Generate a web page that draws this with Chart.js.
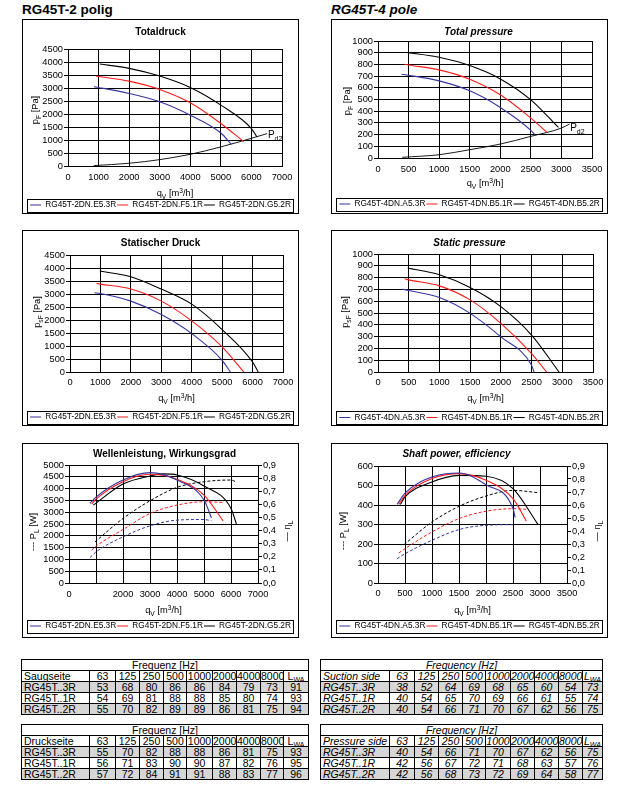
<!DOCTYPE html>
<html><head><meta charset="utf-8">
<script src="https://cdn.jsdelivr.net/npm/chart.js@4.4.1/dist/chart.umd.min.js"></script>
<style>
html,body{margin:0;padding:0;background:#fff;}
body{width:624px;height:785px;position:relative;overflow:hidden;font-family:'Liberation Sans',Arial,sans-serif;color:#000;}
.h{position:absolute;font-weight:bold;font-size:13.5px;line-height:14px;white-space:nowrap;}
canvas{position:absolute;display:block;}
table{position:absolute;border-collapse:collapse;table-layout:fixed;font-size:10.5px;line-height:10px;}
td{border:1px solid #000;padding:0;text-align:center;overflow:hidden;white-space:nowrap;height:10px;vertical-align:middle;}
td.n{text-align:left;padding-left:2px;}
tr.g td{background:#d6d6d6;}
table.it td{font-style:italic;}
sub{font-size:7px;vertical-align:-2px;line-height:0;}
</style></head><body>
<div class="h" style="left:22px;top:3px">RG45T-2 polig</div>
<div class="h" style="left:331px;top:3px;font-style:italic">RG45T-4 pole</div>
<canvas id="c1" width="277" height="195" style="left:22px;top:19px"></canvas>
<canvas id="c2" width="277" height="195" style="left:331px;top:19px"></canvas>
<canvas id="c3" width="277" height="196" style="left:22px;top:230px"></canvas>
<canvas id="c4" width="277" height="196" style="left:331px;top:230px"></canvas>
<canvas id="c5" width="277" height="195" style="left:22px;top:443px"></canvas>
<canvas id="c6" width="277" height="195" style="left:331px;top:443px"></canvas>
<script>
// ---------------- DATA ----------------
// Legend names
const names2 = ['RG45T-2DN.E5.3R', 'RG45T-2DN.F5.1R', 'RG45T-2DN.G5.2R'];
const names4 = ['RG45T-4DN.A5.3R', 'RG45T-4DN.B5.1R', 'RG45T-4DN.B5.2R'];

// Chart 1: Totaldruck (2-pole)  q [m3/h], p [Pa]
const tot2_qE = [850, 1000, 2000, 3000, 4000, 5000, 5340];
const tot2_pE = [3050, 3020, 2790, 2470, 1955, 1270, 835];
const tot2_qF = [910, 1000, 2000, 3000, 4000, 5000, 5745];
const tot2_pF = [3460, 3445, 3265, 2945, 2430, 1635, 940];
const tot2_qG = [1040, 2000, 3000, 4000, 5000, 6000, 6180];
const tot2_pG = [3920, 3755, 3460, 3020, 2340, 1440, 1120];
const tot2_qPd = [840, 2000, 3000, 4000, 5000, 6000, 6510];
const tot2_pPd = [15, 105, 245, 450, 735, 1065, 1245];

// Chart 2: Total pressure (4-pole)
const tot4_qA = [385, 500, 1000, 1500, 2000, 2500, 2565];
const tot4_pA = [716, 707, 659, 574, 432, 236, 199];
const tot4_qB1 = [434, 500, 1000, 1500, 2000, 2500, 2758];
const tot4_pB1 = [801, 795, 753, 673, 540, 341, 222];
const tot4_qB2 = [484, 1000, 1500, 2000, 2500, 2951];
const tot4_pB2 = [901, 861, 790, 676, 497, 261];
const tot4_qPd = [396, 1000, 1500, 2000, 2500, 3000, 3132];
const tot4_pPd = [6, 28, 71, 119, 185, 256, 290];

// Chart 3: Statischer Druck (2-pole)
const st2_qE = [805, 1000, 2000, 3000, 4000, 5000, 5270];
const st2_pE = [3047, 3021, 2726, 2211, 1478, 450, 0];
const st2_qF = [871, 1000, 2000, 3000, 4000, 5000, 5711];
const st2_pF = [3407, 3381, 3189, 2726, 1967, 964, 0];
const st2_qG = [981, 2000, 3000, 4000, 5000, 6000, 6185];
const st2_pG = [3883, 3664, 3188, 2610, 1633, 386, 0];

// Chart 4: Static pressure (4-pole)
const st4_qA = [395, 500, 1000, 1500, 2000, 2500, 2541];
const st4_pA = [702, 690, 631, 497, 298, 57, 0];
const st4_qB1 = [434, 500, 1000, 1500, 2000, 2500, 2744];
const st4_pB1 = [790, 781, 730, 611, 412, 156, 0];
const st4_qB2 = [483, 1000, 1500, 2000, 2500, 2947];
const st4_pB2 = [881, 824, 716, 554, 313, 0];

// Chart 5: Wellenleistung, Wirkungsgrad (2-pole)
const sh2_qE = [777, 1000, 2000, 3000, 4000, 5000, 5277];
const sh2_etaE = [0.607, 0.655, 0.786, 0.842, 0.786, 0.633, 0.497];
const sh2_powE = [1076, 1317, 1955, 2422, 2663, 2691, 2635];
const sh2_qF = [838, 1000, 2000, 3000, 4000, 5000, 5709];
const sh2_etaF = [0.602, 0.640, 0.773, 0.829, 0.791, 0.671, 0.474];
const sh2_powF = [1388, 1558, 2266, 2946, 3300, 3442, 3414];
const sh2_qG = [900, 2000, 3000, 3500, 4000, 5000, 6000, 6202];
const sh2_etaG = [0.594, 0.755, 0.816, 0.832, 0.824, 0.740, 0.569, 0.449];
const sh2_qGp = [962, 2000, 3000, 4000, 5000, 6000, 6202];
const sh2_powG = [1742, 2734, 3484, 4051, 4292, 4363, 4278];

// Chart 6: Shaft power, efficiency (4-pole)
const sh4_qA = [353, 500, 1000, 1500, 2000, 2500, 2540];
const sh4_etaA = [0.605, 0.692, 0.815, 0.846, 0.756, 0.572, 0.503];
const sh4_powA = [125, 150, 219, 274, 296, 299, 299];
const sh4_qB1 = [384, 500, 1000, 1500, 2000, 2500, 2745];
const sh4_etaB1 = [0.605, 0.674, 0.803, 0.841, 0.790, 0.649, 0.477];
const sh4_powB1 = [154, 176, 262, 330, 368, 381, 378];
const sh4_qB2 = [415, 500, 1000, 1500, 2000, 2500, 2961];
const sh4_etaB2 = [0.605, 0.662, 0.777, 0.828, 0.821, 0.726, 0.451];
const sh4_qB2p = [483, 1000, 1500, 2000, 2500, 2975];
const sh4_powB2 = [197, 313, 393, 446, 475, 463];

// Sound tables
const freqBands = ['63', '125', '250', '500', '1000', '2000', '4000', '8000'];
const soundModels = ['RG45T..3R', 'RG45T..1R', 'RG45T..2R'];
const suction2 = [[53, 68, 80, 86, 86, 84, 79, 73, 91], [54, 69, 81, 88, 88, 85, 80, 74, 93], [55, 70, 82, 89, 89, 86, 81, 75, 94]];
const pressure2 = [[55, 70, 82, 88, 88, 86, 81, 75, 93], [56, 71, 83, 90, 90, 87, 82, 76, 95], [57, 72, 84, 91, 91, 88, 83, 77, 96]];
const suction4 = [[38, 52, 64, 69, 68, 65, 60, 54, 73], [40, 54, 65, 70, 69, 66, 61, 55, 74], [40, 54, 66, 71, 70, 67, 62, 56, 75]];
const pressure4 = [[40, 54, 66, 71, 70, 67, 62, 56, 75], [42, 56, 67, 72, 71, 68, 63, 57, 76], [42, 56, 68, 73, 72, 69, 64, 58, 77]];

// ---------------- STYLE ----------------
const FONT = "'Liberation Sans', Arial, Helvetica, sans-serif";
const BLUE = '#3535a0', RED = '#ff1a1a', BLACK = '#000000';
const TICK_FS = 9.3, AX_FS = 9.3, TITLE_FS = 10, LEG_FS = 8.3, LEG_PAD = 1;
const LW = 1.1;
Chart.defaults.font.family = FONT;
Chart.defaults.color = '#000';

function drawRich(ctx, segs, x, y, size, rot) {
  const small = size * 0.72;
  const f = s => (s.sub || s.sup ? small : size) + 'px ' + FONT;
  let total = 0;
  const ws = segs.map(s => { ctx.font = f(s); const w = ctx.measureText(s.t).width; total += w; return w; });
  ctx.save();
  ctx.translate(x, y);
  if (rot) ctx.rotate(rot);
  ctx.textAlign = 'left'; ctx.textBaseline = 'alphabetic'; ctx.fillStyle = '#000';
  let cx = -total / 2;
  const base = size * 0.36;
  segs.forEach((s, i) => {
    ctx.font = f(s);
    const dy = s.sub ? size * 0.3 : s.sup ? -size * 0.4 : 0;
    ctx.fillText(s.t, cx, base + dy);
    cx += ws[i];
  });
  ctx.restore();
}

const deco = {
  id: 'deco',
  beforeLayout(chart, args, o) {
    const lg = chart.legend;
    if (lg && !lg._fixedH) {
      const orig = lg.fit;
      lg.fit = function () { orig.call(this); this.height = o.legendH; };
      lg._fixedH = true;
    }
  },
  afterDraw(chart, args, o) {
    const ctx = chart.ctx, W = chart.width, H = chart.height;
    ctx.save();
    ctx.strokeStyle = '#000'; ctx.lineWidth = 1;
    ctx.strokeRect(0.5, 0.5, W - 1, H - 1);
    const hb = chart.legend && chart.legend.legendHitBoxes;
    if (hb && hb.length) {
      const l = Math.min(...hb.map(b => b.left)), r = Math.max(...hb.map(b => b.left + b.width));
      const cy = hb[0].top + hb[0].height / 2;
      const x0 = Math.round(l - 3) + 0.5, x1 = Math.round(r + 2) + 0.5;
      const y0 = Math.round(cy - 6.5) + 0.5, y1 = Math.round(cy + 6.5) + 0.5;
      ctx.strokeRect(x0, y0, x1 - x0, y1 - y0);
    }
    ctx.fillStyle = '#000';
    ctx.font = (o.italic ? 'italic ' : '') + 'bold ' + TITLE_FS + 'px ' + FONT;
    ctx.textAlign = 'center'; ctx.textBaseline = 'middle';
    ctx.fillText(o.title, W / 2 + (o.titleDx || 0), o.titleY);
    const ca = chart.chartArea;
    drawRich(ctx, o.xTitle, ca.left + ca.width / 2, o.xTitleY, AX_FS, 0);
    drawRich(ctx, o.yTitle, o.yTitleX, o.yTitleY, AX_FS, -Math.PI / 2);
    if (o.y2Title) drawRich(ctx, o.y2Title, o.y2TitleX, o.y2TitleY, AX_FS, -Math.PI / 2);
    if (o.pd) {
      const px = chart.scales.x.getPixelForValue(o.pd.x), py = chart.scales.y.getPixelForValue(o.pd.y);
      ctx.textAlign = 'left'; ctx.textBaseline = 'alphabetic';
      ctx.font = '10px ' + FONT;
      ctx.fillText('P', px, py + 3.6);
      const w = ctx.measureText('P').width;
      ctx.font = '7px ' + FONT;
      ctx.fillText('d2', px + w, py + 6.5);
    }
    ctx.restore();
  }
};

function line(label, xs, ys, color, extra) {
  return Object.assign({
    label, data: xs.map((x, i) => ({ x, y: ys[i] })),
    borderColor: color, backgroundColor: color, borderWidth: LW,
    pointRadius: 0, pointHoverRadius: 0, fill: false, cubicInterpolationMode: 'monotone'
  }, extra || {});
}

const qTitle = [{ t: 'q' }, { t: 'V', sub: 1 }, { t: ' [m' }, { t: '3', sup: 1 }, { t: '/h]' }];

function makeChart(id, geo, datasets, xs, ys, y2, o) {
  const Lh = geo.H + LEG_PAD + LEG_FS / 2 - geo.legY;
  const xH = geo.H - Lh - geo.B;
  const scales = {
    x: {
      type: 'linear', position: 'bottom', min: 0, max: xs.max,
      ticks: { stepSize: xs.step, autoSkip: false, maxRotation: 0, minRotation: 0, padding: geo.xPad, color: '#000', font: { size: TICK_FS }, callback: xs.cb || (v => String(v)) },
      grid: { color: '#000', lineWidth: 1, drawTicks: false },
      border: { color: '#000', width: 1 },
      afterFit: s => { s.height = xH; }
    },
    y: {
      type: 'linear', position: 'left', min: 0, max: ys.max,
      ticks: { stepSize: ys.step, autoSkip: false, padding: 1, color: '#000', font: { size: TICK_FS }, callback: v => String(v) },
      grid: { color: '#000', lineWidth: 1, drawTicks: true, tickLength: 4, tickColor: '#000' },
      border: { color: '#000', width: 1 },
      afterFit: s => { s.width = geo.L; }
    }
  };
  if (y2) {
    scales.y2 = {
      type: 'linear', position: 'right', min: 0, max: 0.9,
      ticks: { stepSize: 0.1, autoSkip: false, padding: 1, color: '#000', font: { size: TICK_FS }, callback: v => v.toFixed(1).replace('.', ',') },
      grid: { drawOnChartArea: false, drawTicks: true, tickLength: 4, tickColor: '#000', color: '#000' },
      border: { color: '#000', width: 1 },
      afterFit: s => { s.width = geo.W - geo.R; }
    };
  } else {
    scales.yr = {
      type: 'linear', position: 'right', display: true,
      ticks: { display: false }, grid: { display: false }, border: { display: false },
      afterFit: s => { s.width = geo.W - geo.R; }
    };
  }
  o.legendH = Lh;
  return new Chart(document.getElementById(id), {
    type: 'line',
    data: { datasets },
    options: {
      responsive: false, animation: false, devicePixelRatio: 1, events: [],
      layout: { padding: { top: geo.T, left: 0, right: 0, bottom: 0 } },
      scales,
      plugins: {
        title: { display: false }, tooltip: { enabled: false },
        legend: {
          display: true, position: 'bottom',
          labels: {
            usePointStyle: true, pointStyle: 'line', pointStyleWidth: 11, padding: LEG_PAD,
            color: '#000', font: { size: LEG_FS }, filter: it => it.datasetIndex < 3
          }
        },
        deco: o
      }
    },
    plugins: [deco]
  });
}

// Chart 1
makeChart('c1', { W: 277, H: 195, L: 46, R: 260, T: 30, B: 147, xPad: 5.4, legY: 186 }, [
  line(names2[0], tot2_qE, tot2_pE, BLUE),
  line(names2[1], tot2_qF, tot2_pF, RED),
  line(names2[2], tot2_qG, tot2_pG, BLACK),
  line('Pd2', tot2_qPd, tot2_pPd, BLACK, { borderWidth: 0.9 })
], { max: 7000, step: 1000 }, { max: 4500, step: 500 }, false, {
  title: 'Totaldruck', titleY: 13, titleDx: 0,
  xTitle: qTitle, xTitleY: 174,
  yTitle: [{ t: 'p' }, { t: 'F', sub: 1 }, { t: ' [Pa]' }], yTitleX: 13, yTitleY: 91,
  pd: { x: 6540, y: 1221 }
});

// Chart 2
makeChart('c2', { W: 277, H: 195, L: 47, R: 261, T: 22, B: 139, xPad: 5.4, legY: 185 }, [
  line(names4[0], tot4_qA, tot4_pA, BLUE),
  line(names4[1], tot4_qB1, tot4_pB1, RED),
  line(names4[2], tot4_qB2, tot4_pB2, BLACK),
  line('Pd2', tot4_qPd, tot4_pPd, BLACK, { borderWidth: 0.9 })
], { max: 3500, step: 500 }, { max: 1000, step: 100 }, false, {
  title: 'Total pressure', italic: true, titleY: 13, titleDx: 9,
  xTitle: qTitle, xTitleY: 164,
  yTitle: [{ t: 'p' }, { t: 'F', sub: 1 }, { t: ' [Pa]' }], yTitleX: 16, yTitleY: 82,
  pd: { x: 3143, y: 259 }
});

// Chart 3
makeChart('c3', { W: 277, H: 196, L: 48, R: 261, T: 25, B: 142, xPad: 4.4, legY: 187 }, [
  line(names2[0], st2_qE, st2_pE, BLUE),
  line(names2[1], st2_qF, st2_pF, RED),
  line(names2[2], st2_qG, st2_pG, BLACK)
], { max: 7000, step: 1000 }, { max: 4500, step: 500 }, false, {
  title: 'Statischer Druck', titleY: 13,
  xTitle: qTitle, xTitleY: 168,
  yTitle: [{ t: 'p' }, { t: 'sF', sub: 1 }, { t: ' [Pa]' }], yTitleX: 15, yTitleY: 82
});

// Chart 4
makeChart('c4', { W: 277, H: 196, L: 47, R: 262, T: 24, B: 142, xPad: 4.4, legY: 187.5 }, [
  line(names4[0], st4_qA, st4_pA, BLUE),
  line(names4[1], st4_qB1, st4_pB1, RED),
  line(names4[2], st4_qB2, st4_pB2, BLACK)
], { max: 3500, step: 500 }, { max: 1000, step: 100 }, false, {
  title: 'Static pressure', italic: true, titleY: 13,
  xTitle: qTitle, xTitleY: 168,
  yTitle: [{ t: 'p' }, { t: 'sF', sub: 1 }, { t: ' [Pa]' }], yTitleX: 14, yTitleY: 82
});

const dash = { borderDash: [3, 2], borderWidth: 1 };
// Chart 5
makeChart('c5', { W: 277, H: 195, L: 47, R: 236, T: 22, B: 140, xPad: 5.4, legY: 183 }, [
  line(names2[0], sh2_qE, sh2_etaE, BLUE, { yAxisID: 'y2' }),
  line(names2[1], sh2_qF, sh2_etaF, RED, { yAxisID: 'y2' }),
  line(names2[2], sh2_qG, sh2_etaG, BLACK, { yAxisID: 'y2' }),
  line('P ' + names2[0], sh2_qE, sh2_powE, BLUE, Object.assign({ yAxisID: 'y' }, dash)),
  line('P ' + names2[1], sh2_qF, sh2_powF, RED, Object.assign({ yAxisID: 'y' }, dash)),
  line('P ' + names2[2], sh2_qGp, sh2_powG, BLACK, Object.assign({ yAxisID: 'y' }, dash))
], { max: 7000, step: 1000, cb: v => (v === 1000 ? '' : String(v)) }, { max: 5000, step: 500 }, true, {
  title: 'Wellenleistung, Wirkungsgrad', titleY: 11, titleDx: 4,
  xTitle: qTitle, xTitleY: 167,
  yTitle: [{ t: '--- P' }, { t: 'L', sub: 1 }, { t: ' [W]' }], yTitleX: 11, yTitleY: 89,
  y2Title: [{ t: '— η' }, { t: 'L', sub: 1 }], y2TitleX: 265, y2TitleY: 88
});

// Chart 6
makeChart('c6', { W: 277, H: 195, L: 47, R: 236, T: 23, B: 140, xPad: 4.4, legY: 183 }, [
  line(names4[0], sh4_qA, sh4_etaA, BLUE, { yAxisID: 'y2' }),
  line(names4[1], sh4_qB1, sh4_etaB1, RED, { yAxisID: 'y2' }),
  line(names4[2], sh4_qB2, sh4_etaB2, BLACK, { yAxisID: 'y2' }),
  line('P ' + names4[0], sh4_qA, sh4_powA, BLUE, Object.assign({ yAxisID: 'y' }, dash)),
  line('P ' + names4[1], sh4_qB1, sh4_powB1, RED, Object.assign({ yAxisID: 'y' }, dash)),
  line('P ' + names4[2], sh4_qB2p, sh4_powB2, BLACK, Object.assign({ yAxisID: 'y' }, dash))
], { max: 3500, step: 500 }, { max: 600, step: 100 }, true, {
  title: 'Shaft power, efficiency', italic: true, titleY: 11, titleDx: -13,
  xTitle: qTitle, xTitleY: 167,
  yTitle: [{ t: '--- P' }, { t: 'L', sub: 1 }, { t: ' [W]' }], yTitleX: 12, yTitleY: 88,
  y2Title: [{ t: '— η' }, { t: 'L', sub: 1 }], y2TitleX: 266, y2TitleY: 88
});

// ---------------- TABLES ----------------
function buildTable(left, top, widths, freqLabel, sideLabel, rows, italic) {
  const t = document.createElement('table');
  if (italic) t.className = 'it';
  t.style.left = left + 'px'; t.style.top = top + 'px';
  t.style.width = widths.reduce((a, b) => a + b, 0) + 'px';
  const cg = document.createElement('colgroup');
  widths.forEach(w => { const c = document.createElement('col'); c.style.width = w + 'px'; cg.appendChild(c); });
  t.appendChild(cg);
  const tb = document.createElement('tbody');
  let tr = document.createElement('tr');
  let td = document.createElement('td'); td.colSpan = widths.length; td.textContent = freqLabel; tr.appendChild(td); tb.appendChild(tr);
  tr = document.createElement('tr');
  td = document.createElement('td'); td.className = 'n'; td.textContent = sideLabel; tr.appendChild(td);
  freqBands.forEach(f => { const c = document.createElement('td'); c.textContent = f; tr.appendChild(c); });
  td = document.createElement('td'); td.innerHTML = 'L<sub>WA</sub>'; tr.appendChild(td);
  tb.appendChild(tr);
  rows.forEach((r, i) => {
    const row = document.createElement('tr');
    if (i !== 1) row.className = 'g';
    const n = document.createElement('td'); n.className = 'n'; n.textContent = soundModels[i]; row.appendChild(n);
    r.forEach(v => { const c = document.createElement('td'); c.textContent = String(v); row.appendChild(c); });
    tb.appendChild(row);
  });
  t.appendChild(tb);
  document.body.appendChild(t);
}
const wLeft = [68, 26, 24, 24, 23, 26, 24, 24, 23, 25];
const wRight = [69, 25, 24, 24, 23, 25, 24, 24, 24, 20];
buildTable(21, 659, wLeft, 'Frequenz [Hz]', 'Saugseite', suction2, false);
buildTable(21, 724, wLeft, 'Frequenz [Hz]', 'Druckseite', pressure2, false);
buildTable(320, 659, wRight, 'Frequency [Hz]', 'Suction side', suction4, true);
buildTable(320, 724, wRight, 'Frequency [Hz]', 'Pressure side', pressure4, true);
</script>
</body></html>
